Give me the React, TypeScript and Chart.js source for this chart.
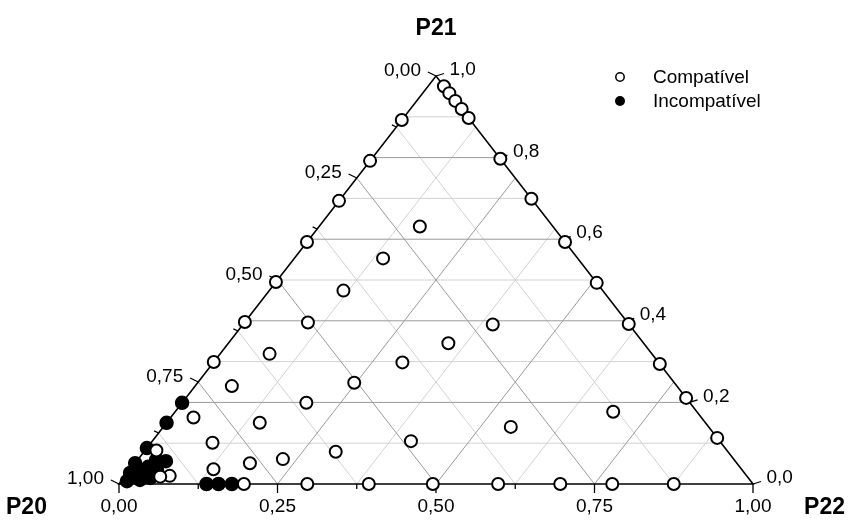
import React, { useEffect, useRef } from "react";
import { Chart, registerables } from "chart.js";
Chart.register(...registerables);

// ---- Data (ternary fractions) ----
const seriesNames = ["Compatível", "Incompatível"];
const axisTitles = { left: "P20", top: "P21", right: "P22" };
const p20TickLabels = ["0,00", "0,25", "0,50", "0,75", "1,00"];
const p20TickValues = [0, 0.25, 0.5, 0.75, 1];
const p21TickLabels = ["0,0", "0,2", "0,4", "0,6", "0,8", "1,0"];
const p21TickValues = [0, 0.2, 0.4, 0.6, 0.8, 1];
const p22TickLabels = ["0,00", "0,25", "0,50", "0,75", "1,00"];
const p22TickValues = [0, 0.25, 0.5, 0.75, 1];

const compatP20 = [
  0, 0, 0, 0, 0, 0, 0, 0, 0, 0, 0, 0, 0,
  0.108, 0.208, 0.306, 0.407, 0.505, 0.603, 0.701,
  0.803, 0.703, 0.606, 0.505, 0.402, 0.304, 0.222, 0.125,
  0.21, 0.307, 0.409, 0.504, 0.603, 0.702, 0.801, 0.9, 0.404, 0.505, 0.605, 0.703,
  0.802, 0.91, 0.215, 0.308, 0.132, 0.312, 0.487, 0.618, 0.711, 0.768, 0.833, 0.926,
];
const compatP21 = [
  0.975, 0.958, 0.939, 0.919, 0.897, 0.797, 0.699, 0.593, 0.493, 0.392, 0.294, 0.211, 0.113,
  0.892, 0.792, 0.694, 0.593, 0.495, 0.397, 0.299,
  0, 0, 0, 0, 0, 0, 0, 0,
  0.631, 0.553, 0.474, 0.396, 0.319, 0.24, 0.163, 0.082, 0.298, 0.248, 0.199, 0.15,
  0.101, 0.02, 0.391, 0.345, 0.177, 0.14, 0.105, 0.079, 0.061, 0.051, 0.036, 0.018,
];
const compatP22 = [
  0.025, 0.042, 0.061, 0.081, 0.103, 0.203, 0.301, 0.407, 0.507, 0.608, 0.706, 0.789, 0.887,
  0, 0, 0, 0, 0, 0, 0,
  0.197, 0.297, 0.394, 0.495, 0.598, 0.696, 0.778, 0.875,
  0.159, 0.14, 0.117, 0.1, 0.078, 0.058, 0.036, 0.018, 0.298, 0.247, 0.196, 0.147,
  0.097, 0.07, 0.394, 0.347, 0.691, 0.548, 0.408, 0.302, 0.228, 0.181, 0.131, 0.056,
];

const incompatP20 = [0.801, 0.85, 0.912, 0.862, 0.843, 0.822, 0.949, 0.969, 0.984, 0.962, 0.943, 0.923, 0.933, 0.898, 0.912, 0.948];
const incompatP21 = [0.199, 0.15, 0.088, 0, 0, 0, 0.051, 0.027, 0.007, 0.01, 0.015, 0.034, 0.042, 0.056, 0.059, 0.034];
const incompatP22 = [0, 0, 0, 0.138, 0.157, 0.178, 0, 0.004, 0.009, 0.028, 0.042, 0.043, 0.025, 0.046, 0.029, 0.018];

// ternary -> cartesian (x along P22 direction, y = P21)
const toXY = (p20: number[], p21: number[], p22: number[]) =>
  p21.map((v, i) => {
    const s = p20[i] + p21[i] + p22[i];
    return { x: p22[i] / s + v / s / 2, y: v / s };
  });

const FONT = "'Liberation Sans', Arial, Helvetica, sans-serif";

const ternaryPlugin = {
  id: "ternary",
  beforeDatasetsDraw(chart: any) {
    const { ctx } = chart;
    const xs = chart.scales.x;
    const ys = chart.scales.y;
    const P = (p21: number, p22: number) => ({
      x: xs.getPixelForValue(p22 + p21 / 2),
      y: ys.getPixelForValue(p21),
    });
    const line = (a: any, b: any, color: string, w: number) => {
      ctx.beginPath();
      ctx.moveTo(a.x, a.y);
      ctx.lineTo(b.x, b.y);
      ctx.strokeStyle = color;
      ctx.lineWidth = w;
      ctx.stroke();
    };
    ctx.save();
    const light = "#d2d2d2";
    const dark = "#9a9a9a";
    // grid: constant P21 every 0.1
    for (let pass = 0; pass < 2; pass++) {
      for (let k = 1; k < 10; k++) {
        const v = k / 10;
        const major = k % 2 === 0;
        if ((pass === 0) === major) continue;
        line(P(v, 0), P(v, 1 - v), major ? dark : light, 1);
      }
      for (let k = 1; k < 8; k++) {
        const v = k / 8;
        const major = k % 2 === 0;
        if ((pass === 0) === major) continue;
        // constant P20 = v
        line(P(1 - v, 0), P(0, 1 - v), major ? dark : light, 1);
        // constant P22 = v
        line(P(0, v), P(1 - v, v), major ? dark : light, 1);
      }
    }
    // triangle
    const A = P(0, 0), B = P(0, 1), C = P(1, 0);
    ctx.beginPath();
    ctx.moveTo(A.x, A.y);
    ctx.lineTo(B.x, B.y);
    ctx.lineTo(C.x, C.y);
    ctx.closePath();
    ctx.strokeStyle = "#000";
    ctx.lineWidth = 1.6;
    ctx.lineJoin = "miter";
    ctx.stroke();
    // ticks
    ctx.lineWidth = 1.3;
    for (let k = 0; k <= 8; k++) {
      const v = k / 8;
      const len = k % 2 === 0 ? 9 : 5;
      // left axis (P20), on left edge: P22 = 0, P21 = 1 - v
      const l = P(1 - v, 0);
      const d = { x: -0.9, y: -0.44 };
      line(l, { x: l.x + d.x * len, y: l.y + d.y * len }, "#000", 1.3);
      // bottom axis (P22)
      const b = P(0, v);
      line(b, { x: b.x, y: b.y + len }, "#000", 1.3);
    }
    for (let k = 0; k <= 5; k++) {
      const v = k / 5;
      const r = P(v, 1 - v);
      line(r, { x: r.x + 8, y: r.y - 2.5 }, "#000", 1.3);
    }
    ctx.restore();
  },
  afterDatasetsDraw(chart: any) {
    const { ctx } = chart;
    const xs = chart.scales.x;
    const ys = chart.scales.y;
    const P = (p21: number, p22: number) => ({
      x: xs.getPixelForValue(p22 + p21 / 2),
      y: ys.getPixelForValue(p21),
    });
    ctx.save();
    ctx.fillStyle = "#000";
    ctx.textBaseline = "middle";
    ctx.font = `19px ${FONT}`;
    // left (P20)
    ctx.textAlign = "right";
    p20TickValues.forEach((v, i) => {
      const p = P(1 - v, 0);
      ctx.fillText(p20TickLabels[i], p.x - 15, p.y - 5);
    });
    // right (P21)
    ctx.textAlign = "left";
    p21TickValues.forEach((v, i) => {
      const p = P(v, 1 - v);
      ctx.fillText(p21TickLabels[i], p.x + 13.5, p.y - 6);
    });
    // bottom (P22)
    ctx.textAlign = "center";
    p22TickValues.forEach((v, i) => {
      const p = P(0, v);
      ctx.fillText(p22TickLabels[i], p.x, p.y + 23);
    });
    // titles
    ctx.font = `bold 23px ${FONT}`;
    const top = P(1, 0);
    ctx.textAlign = "center";
    ctx.fillText(axisTitles.top, top.x, 29);
    ctx.textAlign = "left";
    ctx.fillText(axisTitles.left, 6, 508);
    ctx.textAlign = "right";
    ctx.fillText(axisTitles.right, 845, 508);
    // legend
    ctx.font = `19px ${FONT}`;
    ctx.textAlign = "left";
    ctx.lineWidth = 1.5;
    ctx.strokeStyle = "#000";
    ctx.beginPath();
    ctx.arc(620, 77, 4.2, 0, Math.PI * 2);
    ctx.fillStyle = "#fff";
    ctx.fill();
    ctx.stroke();
    ctx.beginPath();
    ctx.arc(620, 101, 5, 0, Math.PI * 2);
    ctx.fillStyle = "#000";
    ctx.fill();
    ctx.fillText(seriesNames[0], 653, 77.5);
    ctx.fillText(seriesNames[1], 653, 102);
    ctx.restore();
  },
};

export default function App() {
  const ref = useRef<HTMLCanvasElement>(null);
  useEffect(() => {
    if (!ref.current) return;
    const chart = new Chart(ref.current, {
      type: "scatter",
      data: {
        datasets: [
          {
            label: seriesNames[0],
            data: toXY(compatP20, compatP21, compatP22),
            pointRadius: 6,
            pointBorderWidth: 2,
            borderColor: "#000",
            backgroundColor: "#fff",
            pointHoverRadius: 6,
            clip: false as any,
          },
          {
            label: seriesNames[1],
            data: toXY(incompatP20, incompatP21, incompatP22),
            pointRadius: 6.5,
            pointBorderWidth: 1.5,
            borderColor: "#000",
            backgroundColor: "#000",
            pointHoverRadius: 6.5,
            clip: false as any,
          },
        ],
      },
      options: {
        responsive: false,
        animation: false,
        layout: { padding: { left: 119, right: 98, top: 76, bottom: 39 } },
        scales: {
          x: { type: "linear", min: 0, max: 1, display: false },
          y: { type: "linear", min: 0, max: 1, display: false },
        },
        plugins: {
          legend: { display: false },
          tooltip: { enabled: false },
        },
        events: [],
      },
      plugins: [ternaryPlugin],
    });
    return () => chart.destroy();
  }, []);
  return (
    <div style={{ position: "absolute", left: 0, top: 0, width: 851, height: 523, background: "#fff" }}>
      <canvas ref={ref} width={851} height={523} style={{ display: "block" }} />
    </div>
  );
}
